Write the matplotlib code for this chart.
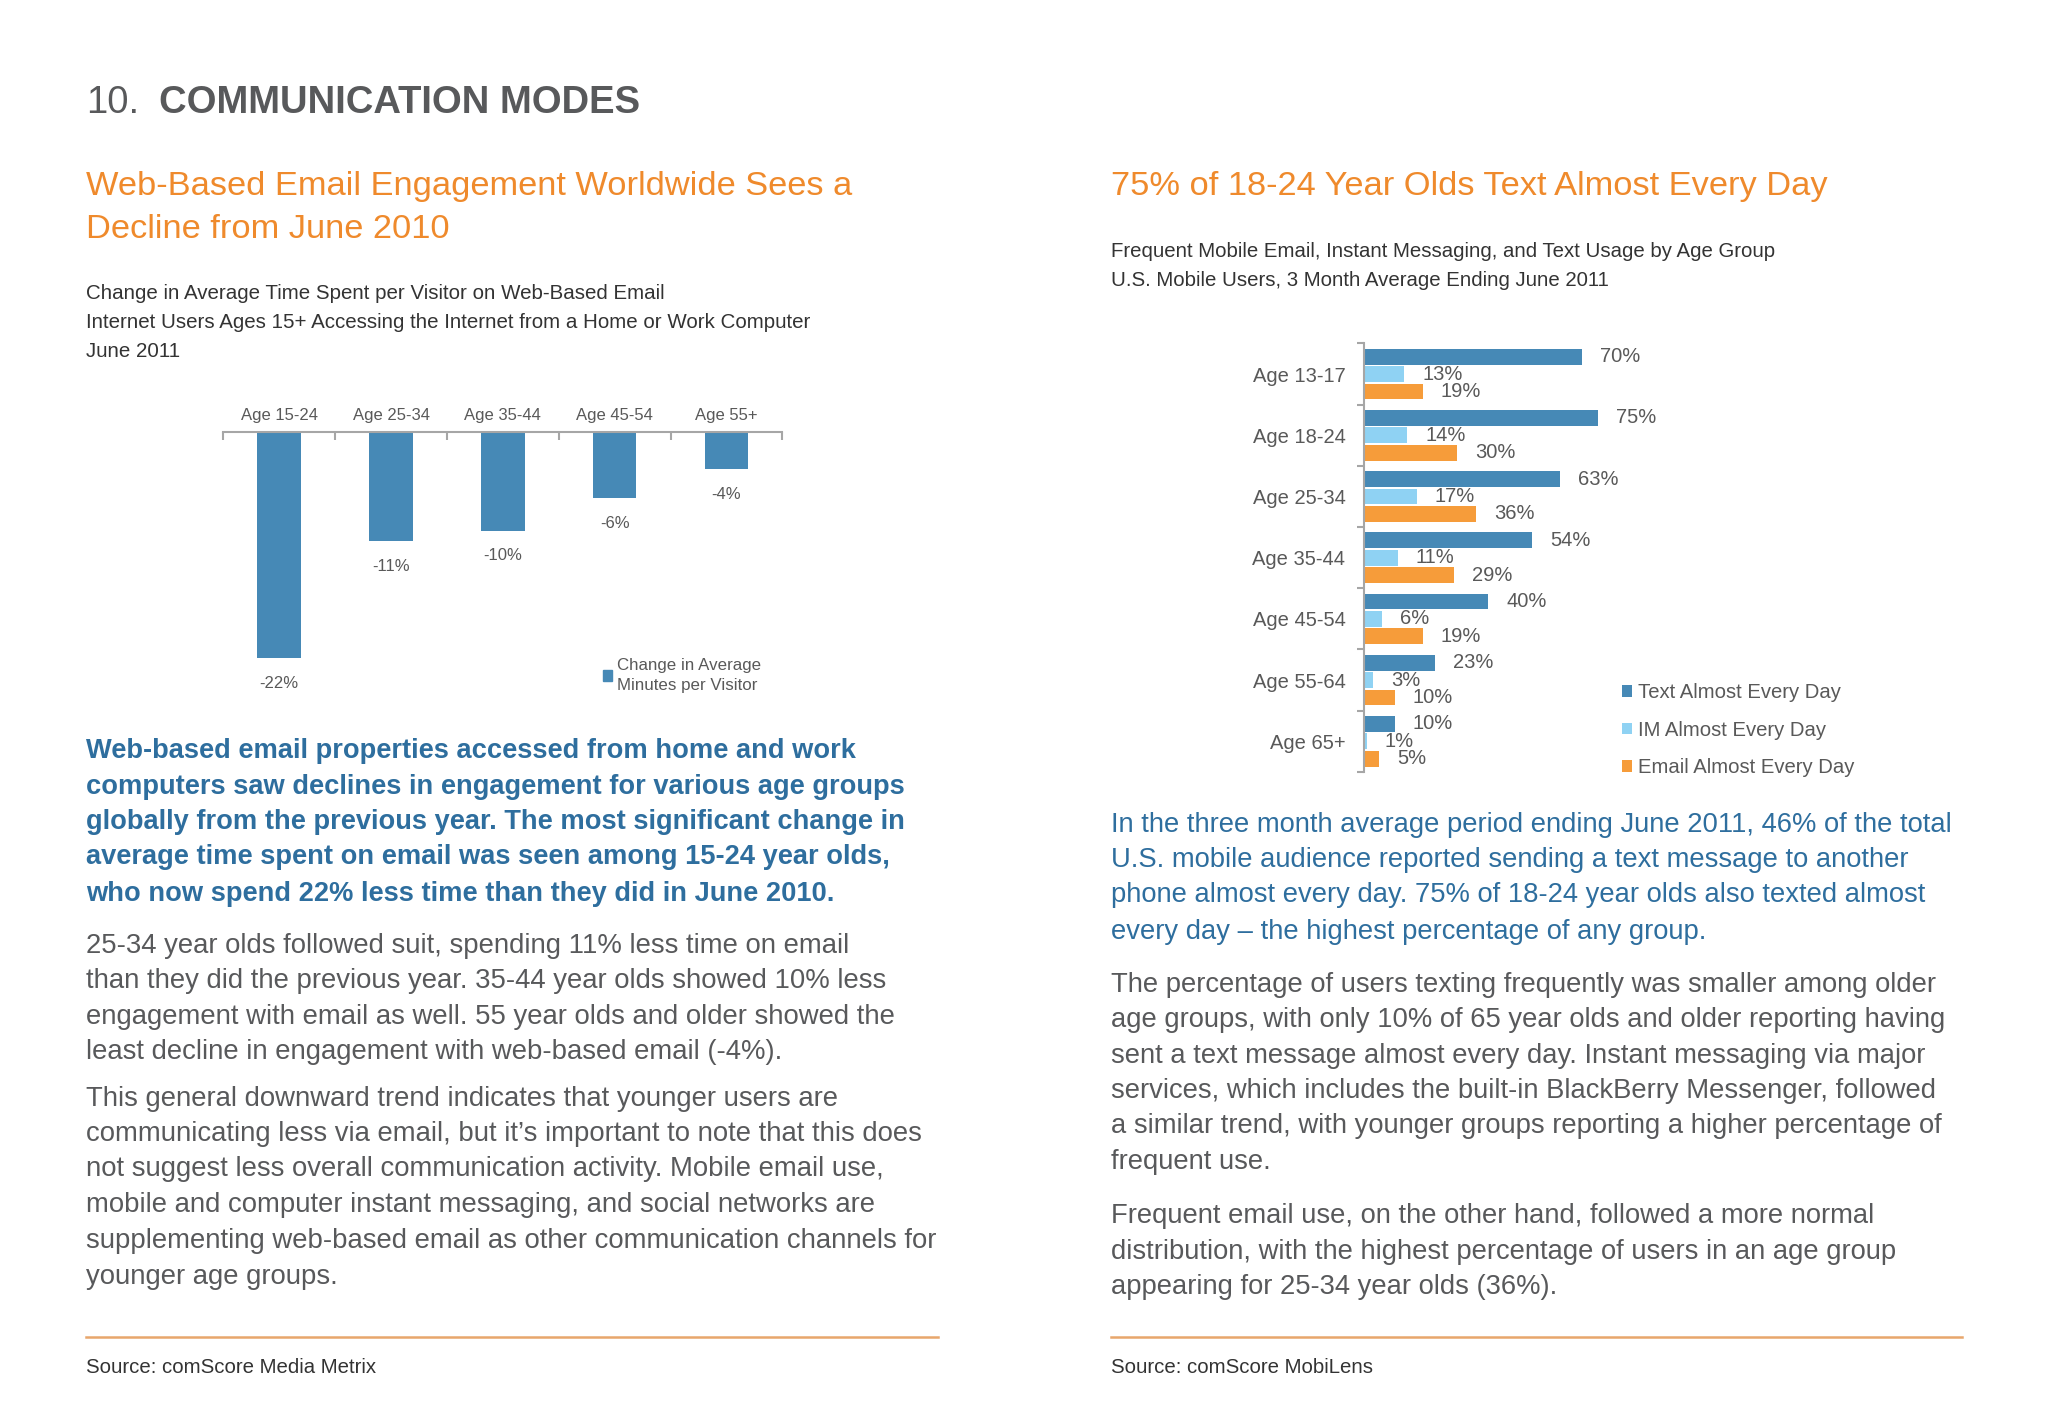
import matplotlib.pyplot as plt
import numpy as np
from matplotlib.patches import Patch
from matplotlib.lines import Line2D

plt.rcParams['font.family'] = ['Liberation Sans', 'DejaVu Sans']
plt.rcParams['figure.facecolor'] = 'white'

W, H = 2048, 1408

# left chart data
left_groups = ['Age 15-24', 'Age 25-34', 'Age 35-44', 'Age 45-54', 'Age 55+']
left_change = [-22.0, -10.6, -9.6, -6.4, -3.6]
left_series = 'Change in Average\nMinutes per Visitor'

# right chart data
right_groups = ['Age 13-17', 'Age 18-24', 'Age 25-34', 'Age 35-44',
                'Age 45-54', 'Age 55-64', 'Age 65+']
text_daily = [70, 75, 63, 54, 40, 23, 10]
im_daily = [13, 14, 17, 11, 6, 3, 1]
email_daily = [19, 30, 36, 29, 19, 10, 5]
series_names = ['Text Almost Every Day', 'IM Almost Every Day', 'Email Almost Every Day']

ORANGE = '#EF8A2C'
BLUE_TXT = '#2E6E9E'
GRAY_TXT = '#58595B'
DARK_TXT = '#333333'
LABEL = '#595959'
AXIS = '#A6A6A6'
BAR_BLUE = '#4689B6'
BAR_LIGHT = '#8FD2F3'
BAR_ORANGE = '#F69C3A'
RULE = '#E8A66C'

fig = plt.figure(figsize=(W / 100, H / 100), dpi=100)


def fx(x):
    return x / W


def fy(y):
    return 1 - y / H


def lines(x, ys, texts, size, color, weight='normal'):
    off = 0.32 * size * 100 / 72
    for y, t in zip(ys, texts):
        fig.text(fx(x), fy(y + off), t, fontsize=size, color=color,
                 fontweight=weight, va='baseline', ha='left')


# header
lines(86, [100.6], ['10.'], 27.5, GRAY_TXT)
lines(159, [100.6], ['COMMUNICATION MODES'], 27.5, GRAY_TXT, 'bold')

# titles
lines(86, [184.2, 227.3], ['Web-Based Email Engagement Worldwide Sees a',
                           'Decline from June 2010'], 24.75, ORANGE)
lines(1111, [184.2], ['75% of 18-24 Year Olds Text Almost Every Day'], 24.75, ORANGE)

# subtitles
lines(86, [292.6, 321.3, 350.0], [
    'Change in Average Time Spent per Visitor on Web-Based Email',
    'Internet Users Ages 15+ Accessing the Internet from a Home or Work Computer',
    'June 2011'], 14.8, DARK_TXT)
lines(1111, [250.8, 279.5], [
    'Frequent Mobile Email, Instant Messaging, and Text Usage by Age Group',
    'U.S. Mobile Users, 3 Month Average Ending June 2011'], 14.7, DARK_TXT)

# body text left
lines(86, [749.7, 785, 820.2, 855.5, 892], [
    'Web-based email properties accessed from home and work',
    'computers saw declines in engagement for various age groups',
    'globally from the previous year. The most significant change in',
    'average time spent on email was seen among 15-24 year olds,',
    'who now spend 22% less time than they did in June 2010.'], 19.6, BLUE_TXT, 'bold')
lines(86, [944.3, 979.6, 1014.8, 1050.1], [
    '25-34 year olds followed suit, spending 11% less time on email',
    'than they did the previous year. 35-44 year olds showed 10% less',
    'engagement with email as well. 55 year olds and older showed the',
    'least decline in engagement with web-based email (-4%).'], 19.8, GRAY_TXT)
lines(86, [1097.1, 1132.4, 1167.6, 1202.9, 1239.5, 1274.8], [
    'This general downward trend indicates that younger users are',
    'communicating less via email, but it\u2019s important to note that this does',
    'not suggest less overall communication activity. Mobile email use,',
    'mobile and computer instant messaging, and social networks are',
    'supplementing web-based email as other communication channels for',
    'younger age groups.'], 19.8, GRAY_TXT)

# body text right
lines(1111, [822.8, 858.1, 893.4, 929.9], [
    'In the three month average period ending June 2011, 46% of the total',
    'U.S. mobile audience reported sending a text message to another',
    'phone almost every day. 75% of 18-24 year olds also texted almost',
    'every day \u2013 the highest percentage of any group.'], 19.75, BLUE_TXT)
lines(1111, [983.5, 1018.7, 1054, 1089.3, 1124.5, 1159.8], [
    'The percentage of users texting frequently was smaller among older',
    'age groups, with only 10% of 65 year olds and older reporting having',
    'sent a text message almost every day. Instant messaging via major',
    'services, which includes the built-in BlackBerry Messenger, followed',
    'a similar trend, with younger groups reporting a higher percentage of',
    'frequent use.'], 19.75, GRAY_TXT)
lines(1111, [1214.7, 1249.9, 1285.2], [
    'Frequent email use, on the other hand, followed a more normal',
    'distribution, with the highest percentage of users in an age group',
    'appearing for 25-34 year olds (36%).'], 19.75, GRAY_TXT)

# rules + sources
for x0, x1 in [(86, 938), (1111, 1962)]:
    fig.add_artist(Line2D([fx(x0), fx(x1)], [fy(1337.4)] * 2, color=RULE, lw=1.8))
lines(86, [1366.2], ['Source: comScore Media Metrix'], 14.65, DARK_TXT)
lines(1111, [1366.2], ['Source: comScore MobiLens'], 14.65, DARK_TXT)

# ---- left chart ----
px_per = 10.27
ax1 = fig.add_axes([fx(223.3), fy(432.3 + 25 * px_per), (782.3 - 223.3) / W, 25 * px_per / H])
x = np.arange(len(left_groups))
ax1.bar(x, left_change, width=0.39, color=BAR_BLUE)
ax1.set_xlim(-0.5, len(left_groups) - 0.5)
ax1.set_ylim(-25, 0)
for s in ['left', 'right', 'bottom']:
    ax1.spines[s].set_visible(False)
ax1.spines['top'].set_color(AXIS)
ax1.spines['top'].set_linewidth(1.5)
ax1.xaxis.tick_top()
ax1.set_xticks(x)
ax1.set_xticklabels(left_groups, fontsize=12, color=LABEL)
ax1.set_xticks(np.arange(-0.5, len(left_groups)), minor=True)
ax1.tick_params(axis='x', which='major', length=0, pad=7)
ax1.tick_params(axis='x', which='minor', direction='in', length=6, width=1.5, color=AXIS,
                top=True, bottom=False)
ax1.set_yticks([])
ax1.patch.set_alpha(0)
for i, v in enumerate(left_change):
    ax1.annotate(f'{v:.0f}%', (i, v), xytext=(0, -18), textcoords='offset points',
                 ha='center', va='center', fontsize=12, color=LABEL)
leg1 = ax1.legend([Patch(color=BAR_BLUE)], [left_series], loc='upper left',
                  bbox_to_anchor=(fx(603), fy(658)), bbox_transform=fig.transFigure,
                  frameon=False, fontsize=12.2, labelcolor=LABEL, handlelength=0.55,
                  handleheight=0.55, handletextpad=0.3, borderpad=0, borderaxespad=0)
for t in leg1.get_texts():
    t.set_linespacing(1.4)

# ---- right chart ----
scale = 3.12
ax2 = fig.add_axes([fx(1363.5), fy(771.9), 100 * scale / W, (771.9 - 343.5) / H])
y = np.arange(len(right_groups))
off = 0.285
ax2.barh(y - off, text_daily, height=0.26, color=BAR_BLUE, label=series_names[0])
ax2.barh(y, im_daily, height=0.26, color=BAR_LIGHT, label=series_names[1])
ax2.barh(y + off, email_daily, height=0.26, color=BAR_ORANGE, label=series_names[2])
ax2.set_ylim(len(right_groups) - 0.5, -0.5)
ax2.set_xlim(0, 100)
for vals, dy in [(text_daily, -off), (im_daily, 0), (email_daily, off)]:
    for i, v in enumerate(vals):
        ax2.annotate(f'{v}%', (v, i + dy), xytext=(13, 0), textcoords='offset points',
                     ha='left', va='center', fontsize=14.5, color=LABEL)
for s in ['top', 'right', 'bottom']:
    ax2.spines[s].set_visible(False)
ax2.spines['left'].set_color(AXIS)
ax2.spines['left'].set_linewidth(1.5)
ax2.set_xticks([])
ax2.set_yticks(y)
ax2.set_yticklabels(right_groups, fontsize=14.5, color=LABEL)
ax2.set_yticks(np.arange(-0.5, len(right_groups)), minor=True)
ax2.tick_params(axis='y', which='major', length=0, pad=13)
ax2.tick_params(axis='y', which='minor', direction='out', length=5, width=1.5, color=AXIS)
ax2.patch.set_alpha(0)
ax2.legend(loc='upper left', bbox_to_anchor=(fx(1622), fy(683)), bbox_transform=fig.transFigure,
           frameon=False, fontsize=14.6, labelcolor=LABEL, handlelength=0.5,
           handleheight=0.5, handletextpad=0.3, labelspacing=0.92, borderpad=0,
           borderaxespad=0)

fig.savefig('out.png', dpi=100)
